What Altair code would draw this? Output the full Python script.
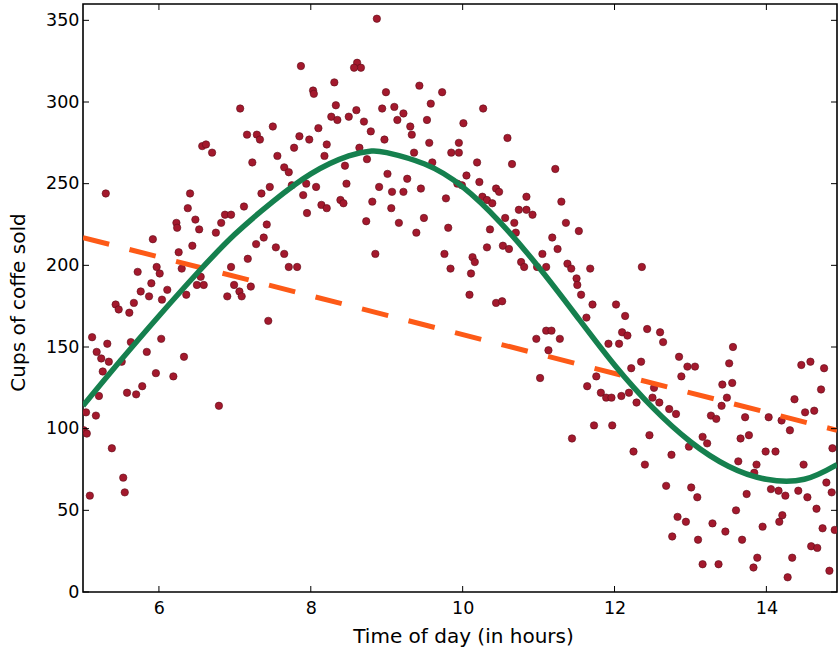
import altair as alt
import pandas as pd

# ---- data ----
hours = [
    5.30, 6.41, 6.57, 6.38, 6.48, 6.23, 6.24, 6.53, 5.92, 6.44, 6.26, 5.72, 5.97, 6.01, 5.90, 6.30, 6.55, 5.76, 5.87, 6.11, 6.36, 6.50,
    5.43, 5.47, 5.67, 5.61, 6.04, 5.12, 5.32, 5.63, 6.03, 5.18, 5.84, 6.33, 5.24, 5.34, 5.51, 5.26, 5.96, 6.19, 5.78, 5.21, 5.58, 5.70,
    5.04, 5.17, 5.01, 5.05, 5.38, 5.53, 5.09, 5.55,
    7.87, 8.03, 8.04, 7.07, 7.50, 7.16, 7.29, 7.33, 7.85, 8.10, 7.98, 8.21, 7.78, 6.62, 6.70, 7.56, 7.23, 7.65, 7.71, 8.18, 7.94, 8.07,
    7.75, 7.90, 7.46, 7.35, 7.95, 8.14, 8.21, 7.12, 6.87, 6.95, 6.82, 6.75, 7.42, 7.38, 7.28, 7.54, 7.65, 7.17, 7.71, 7.82, 6.95, 6.59,
    6.99, 7.06, 7.09, 7.21, 6.90, 7.44, 6.79,
    8.87, 8.61, 8.66, 8.57, 8.31, 8.99, 9.43, 9.73, 9.58, 8.33, 9.10, 8.94, 8.60, 8.50, 8.27, 8.35, 9.22, 9.14, 8.70, 9.53, 9.31, 9.33,
    8.79, 8.97, 9.56, 8.64, 9.36, 9.85, 8.74, 9.60, 8.45, 9.01, 9.27, 8.47, 8.90, 9.07, 9.22, 9.45, 9.78, 8.39, 8.43, 8.81, 9.06, 8.73,
    9.16, 9.49, 9.39, 9.81, 8.85, 9.76, 9.84,
    10.27, 10.01, 10.59, 9.95, 9.95, 10.19, 10.65, 11.22, 10.05, 9.93, 9.99, 10.22, 10.44, 10.48, 10.26, 10.32, 10.39, 10.84, 11.30,
    10.74, 10.84, 10.92, 10.56, 10.68, 10.70, 11.36, 10.36, 11.18, 10.32, 10.53, 10.61, 11.25, 11.05, 10.13, 10.16, 10.77, 10.81, 10.98,
    11.10, 11.38, 11.43, 10.11, 11.50, 10.09, 10.44, 10.52, 11.10, 11.17, 10.97, 11.28, 11.13, 11.02, 11.44,
    11.53, 11.68, 12.36, 11.51, 11.56,
    11.71, 12.02, 11.63, 12.14, 12.43, 12.10, 12.17, 12.60, 12.64, 11.92, 12.06, 12.85, 12.96, 13.06, 12.35, 12.22, 11.76, 12.88, 11.64,
    12.52, 11.82, 11.89, 11.96, 12.09, 12.19, 12.29, 12.50, 12.59, 12.72, 12.81, 11.73, 11.97, 12.46, 13.16, 12.98, 12.25, 12.75, 12.40,
    12.68, 13.01, 13.09, 12.83, 12.94, 12.76, 13.10, 13.16,
    13.56, 13.51, 14.46, 14.58, 14.76, 13.42, 13.55, 14.72, 13.48, 14.37, 13.41, 14.63, 14.51, 13.27, 13.34, 13.72, 14.03, 14.20, 14.31,
    13.22, 13.77, 13.66, 14.87, 13.99, 14.12, 13.63, 13.87, 13.84, 14.49, 14.79, 14.86, 14.06, 14.16, 14.25, 14.42, 14.54, 13.74, 13.60,
    14.66, 14.21, 14.17, 13.29, 13.95, 14.74, 14.90, 13.46, 13.68, 14.59, 14.67, 13.88, 13.83, 14.34, 13.37, 14.83, 14.28,
]
cups = [
    244, 244, 273, 235, 228, 226, 223, 222, 216, 212, 208, 196, 199, 195, 189, 198, 193, 184, 181, 185, 182, 188,
    176, 173, 177, 171, 179, 156, 152, 153, 155, 147, 147, 144, 143, 141, 141, 135, 134, 132, 126, 120, 122, 121,
    110, 108, 99, 97, 88, 70, 59, 61,
    322, 307, 305, 296, 285, 280, 280, 277, 279, 284, 277, 274, 272, 274, 269, 267, 263, 260, 257, 267, 250, 248,
    249, 243, 248, 244, 232, 237, 235, 236, 231, 231, 226, 220, 225, 217, 213, 211, 207, 204, 199, 199, 199, 188,
    188, 184, 181, 187, 181, 166, 114,
    351, 324, 321, 321, 312, 306, 310, 306, 299, 298, 297, 296, 295, 291, 291, 289, 293, 289, 288, 289, 285, 280,
    282, 277, 275, 272, 269, 269, 265, 263, 261, 256, 253, 250, 248, 245, 245, 247, 241, 240, 238, 239, 235, 227,
    226, 229, 220, 223, 207, 207, 198,
    296, 287, 278, 275, 269, 263, 262, 259, 255, 250, 249, 251, 247, 245, 242, 240, 238, 242, 239,
    234, 234, 231, 229, 226, 220, 226, 222, 217, 211, 212, 210, 210, 207, 205, 202, 202, 199, 199,
    199, 201, 198, 195, 192, 182, 177, 178, 160, 160, 155, 155, 148, 131, 94,
    221, 198, 199, 188, 182,
    176, 176, 168, 169, 161, 159, 157, 159, 153, 152, 152, 144, 138, 138, 141, 137, 132, 132, 126,
    125, 122, 119, 119, 120, 122, 116, 119, 116, 112, 109, 102, 102, 96, 95, 89, 86, 84, 78,
    65, 64, 58, 46, 43, 34, 32, 17,
    150, 140, 139, 141, 137, 127, 128, 124, 119, 118, 114, 111, 110, 108, 106, 107, 107, 105, 99,
    91, 96, 94, 88, 86, 86, 80, 78, 73, 78, 67, 61, 63, 62, 59, 62, 58, 60, 50,
    51, 47, 43, 42, 40, 39, 38, 37, 32, 28, 27, 21, 15, 21, 17, 13, 9,
]

fit_hours = [5.0, 5.5, 6.0, 6.5, 7.0, 7.5, 8.0, 8.5, 8.8, 9.0, 9.5, 10.0, 10.5, 11.0, 11.5, 12.0, 12.5, 13.0, 13.5, 14.0, 14.5, 14.93]
fit_cups = [114, 142, 169, 195, 219, 239, 256, 267, 270, 269, 262, 248, 226, 199, 169, 139, 113, 92, 77, 69, 69, 78]

lin_hours = [5.0, 14.93]
lin_cups = [217, 99]

x_ticks = [6, 8, 10, 12, 14]
y_ticks = [0, 50, 100, 150, 200, 250, 300, 350]

# ---- layout ----
W, H = 754, 588
TICK = 6
FONT = "DejaVu Sans"
xscale = alt.Scale(domain=[5, 14.93], nice=False, zero=False)
yscale = alt.Scale(domain=[0, 360], nice=False, zero=False)

scatter_df = pd.DataFrame({"hour": hours, "cups": cups})
fit_df = pd.DataFrame({"hour": fit_hours, "cups": fit_cups})
lin_df = pd.DataFrame({"hour": lin_hours, "cups": lin_cups})
xt_df = pd.DataFrame({"hour": x_ticks})
yt_df = pd.DataFrame({"cups": y_ticks})

x_axis = alt.Axis(
    values=x_ticks, title="Time of day (in hours)", grid=False, ticks=False, domain=False,
    labelFont=FONT, labelFontSize=17.5, labelColor="black", labelPadding=7,
    titleFont=FONT, titleFontSize=20, titleFontWeight="normal", titleColor="black",
    titleX=380, titleY=44, titleBaseline="middle", titleAlign="center",
)
y_axis = alt.Axis(
    values=y_ticks, title="Cups of coffe sold", grid=False, ticks=False, domain=False,
    labelFont=FONT, labelFontSize=17.5, labelColor="black", labelPadding=4,
    titleFont=FONT, titleFontSize=20, titleFontWeight="normal", titleColor="black",
    titleX=-65, titleY=298, titleBaseline="middle", titleAlign="center", titleAngle=270,
)

X = alt.X("hour:Q", scale=xscale, axis=x_axis, title="Time of day (in hours)")
Y = alt.Y("cups:Q", scale=yscale, axis=y_axis, title="Cups of coffe sold")

points = alt.Chart(scatter_df).mark_circle(
    size=55, color="#a3192d", opacity=1, stroke="#5e0c18", strokeWidth=0.6, clip=True
).encode(x=X, y=Y)

linear = alt.Chart(lin_df).mark_line(
    color="#fd5a17", strokeWidth=5, strokeDash=[27, 21], clip=True
).encode(x=X, y=Y)

fit = alt.Chart(fit_df).mark_line(
    color="#15804e", strokeWidth=5.5, interpolate="natural", clip=True
).encode(x=X, y=Y)

tick_style = dict(color="black", strokeWidth=1)
left_ticks = alt.Chart(yt_df).mark_rule(**tick_style).encode(
    y=Y, x=alt.value(0), x2=alt.value(TICK)
)
right_ticks = alt.Chart(yt_df).mark_rule(**tick_style).encode(
    y=Y, x=alt.value(W - TICK), x2=alt.value(W)
)
bottom_ticks = alt.Chart(xt_df).mark_rule(**tick_style).encode(
    x=X, y=alt.value(H - TICK), y2=alt.value(H)
)
top_ticks = alt.Chart(xt_df).mark_rule(**tick_style).encode(
    x=X, y=alt.value(0), y2=alt.value(TICK)
)

chart = alt.layer(
    points, linear, fit, left_ticks, right_ticks, bottom_ticks, top_ticks
).properties(
    width=W, height=H,
    autosize=alt.AutoSizeParams(type="none"),
    padding={"left": 83, "top": 4, "right": 1, "bottom": 59},
    background="white",
).configure_view(
    stroke="black", strokeWidth=1.6
)

chart.save("out.html", embed_options={"renderer": "svg", "actions": False})
